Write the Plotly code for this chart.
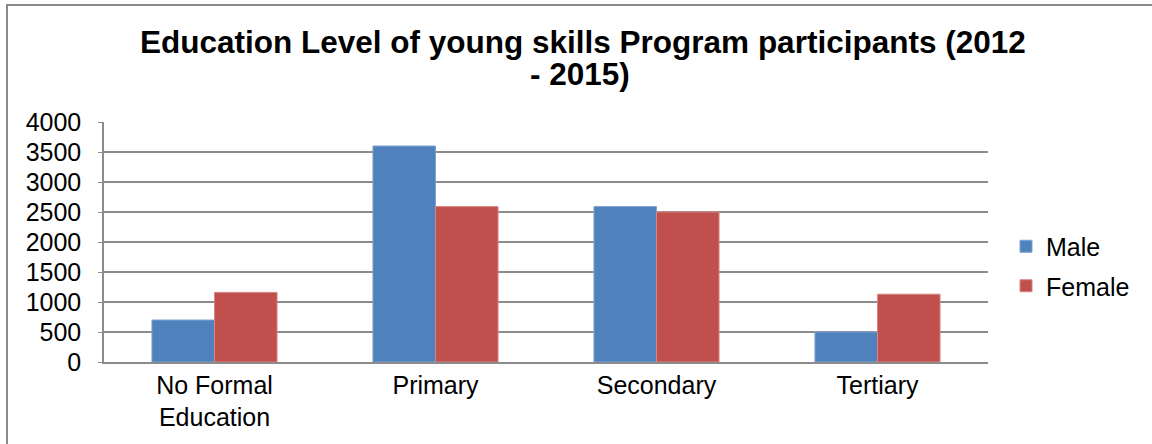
import plotly.graph_objects as go

categories = ["No Formal<br>Education", "Primary", "Secondary", "Tertiary"]
male = [700, 3600, 2590, 500]
female = [1160, 2590, 2500, 1130]
y_ticks = [0, 500, 1000, 1500, 2000, 2500, 3000, 3500, 4000]
title_lines = ["Education Level of young skills Program participants (2012", "- 2015)"]

W, H = 1152, 444
L, R, T, B = 104, 988, 122, 362
pw, ph = R - L, B - T

def px_x(x):
    return (x - L) / pw

def px_y(y):
    return (B - y) / ph

fig = go.Figure()
fig.add_trace(go.Bar(name="Male", x=categories, y=male, legendgroup="m",
                     marker=dict(color="#4F81BD", line=dict(color="#7FA3D1", width=1))))
fig.add_trace(go.Bar(name="Female", x=categories, y=female, legendgroup="f",
                     marker=dict(color="#C0504D", line=dict(color="#D98583", width=1))))

title_font = dict(size=31.5, family="Liberation Sans, Arial, sans-serif", color="black",
                  weight="bold")
annotations = [
    dict(text=title_lines[0], xref="paper", yref="paper", x=px_x(583), y=px_y(42),
         xanchor="center", yanchor="middle", showarrow=False, font=title_font),
    dict(text=title_lines[1], xref="paper", yref="paper", x=px_x(580), y=px_y(74),
         xanchor="center", yanchor="middle", showarrow=False, font=title_font),
]

fig.update_layout(
    width=W, height=H,
    margin=dict(l=L, r=W - R, t=T, b=H - B, pad=0),
    paper_bgcolor="white", plot_bgcolor="white",
    barmode="group", bargap=0.434, bargroupgap=0,
    font=dict(family="Liberation Sans, Arial, sans-serif", color="black"),
    annotations=annotations,
    legend=dict(x=px_x(1006), xanchor="left", y=px_y(266), yanchor="middle",
                font=dict(size=25), bgcolor="rgba(0,0,0,0)",
                tracegroupgap=4, itemwidth=30),
    showlegend=True,
    xaxis=dict(showline=True, linecolor="#8c8c8c", linewidth=1.5,
               tickfont=dict(size=25), ticks="", showgrid=False),
    yaxis=dict(range=[0, 4000], tickvals=y_ticks, ticktext=[str(v) for v in y_ticks],
               showline=True, linecolor="#8c8c8c", linewidth=1.5,
               showgrid=True, gridcolor="#8c8c8c", gridwidth=1.5,
               ticks="outside", ticklen=4, tickcolor="#8c8c8c",
               ticklabelstandoff=12,
               tickfont=dict(size=25), zeroline=False),
    shapes=[dict(type="rect", xref="paper", yref="paper",
                 x0=px_x(7), x1=px_x(1170), y0=px_y(460), y1=px_y(5),
                 line=dict(color="#8a8a8a", width=2), fillcolor="rgba(0,0,0,0)",
                 layer="below")],
)

fig.write_html("out.html")
